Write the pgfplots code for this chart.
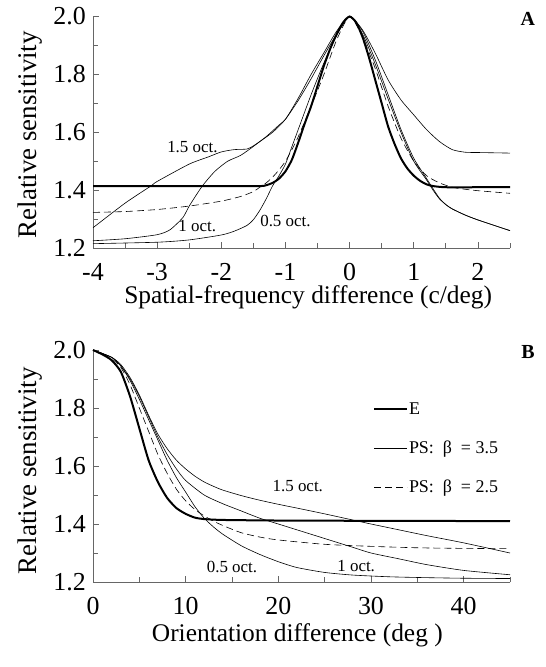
\documentclass[border=0pt]{standalone}
\usepackage{fontspec}
\setmainfont{Liberation Serif}
\usepackage{pgfplots}
\pgfplotsset{compat=1.18}
\begin{document}
\begin{tikzpicture}
\useasboundingbox (0,0) rectangle (546bp,-667bp);
\pgfplotsset{
  myaxis/.style={
    scale only axis,
    width=417bp,
    axis x line*=bottom, axis y line*=left,
    axis line style={gray!80!black, line width=0.8bp},
    tick style={gray!80!black, line width=0.7bp},
    tick align=inside,
    major tick length=6bp, minor tick length=5bp,
    ymin=1.2, ymax=2.0,
    ytick={1.2,1.4,...,2.01},
    minor ytick={1.3,1.5,1.7,1.9},
    /pgf/number format/assume math mode=true,
    tick label style={font=\fontsize{26}{28}\selectfont},
    yticklabel style={anchor=east, inner sep=0pt, xshift=-7bp,
      /pgf/number format/.cd, fixed, fixed zerofill, precision=1},
    xticklabel style={anchor=north, inner sep=0pt, yshift=-15bp},
    xlabel style={font=\fontsize{25.5}{28}\selectfont},
    ylabel style={font=\fontsize{27}{29}\selectfont},
    clip=false,
    thinline/.style={black, line width=0.6bp, smooth, tension=0.4},
    thickline/.style={black, line width=2.0bp, smooth, tension=0.4},
    dashline/.style={black, line width=0.6bp, dash pattern=on 7bp off 4bp, smooth, tension=0.4},
  }
}
% ---------------- Panel A ----------------
\begin{axis}[myaxis,
  at={(93bp,-248bp)}, anchor=south west, height=231.5bp,
  xmin=-4, xmax=2.5,
  xtick={-4,-3,...,2},
  minor xtick={-3.5,-2.5,...,2.5},
  xlabel={Spatial-frequency difference (c/deg)},
  ylabel={Relative sensitivity},
  xlabel style={at={(axis description cs:0.516,-0.215)}, anchor=center},
  ylabel style={at={(axis description cs:-0.151,0.49)}, anchor=center},
]
% E
\addplot[thickline] coordinates {
(-4,1.414) (-2,1.414) (-1.4,1.414) (-1.3,1.417) (-1.2,1.425) (-1.1,1.44) (-1.0,1.465)
(-0.9,1.505) (-0.8,1.565) (-0.7,1.63) (-0.6,1.69) (-0.5,1.76) (-0.4,1.83) (-0.3,1.89)
(-0.2,1.94) (-0.1,1.98) (0,2.0) (0.1,1.98) (0.2,1.93) (0.3,1.86) (0.4,1.78) (0.5,1.70)
(0.6,1.62) (0.7,1.56) (0.8,1.51) (0.9,1.475) (1.0,1.45) (1.1,1.432) (1.2,1.42)
(1.3,1.414) (1.5,1.41) (2.0,1.41) (2.5,1.41)};
% 1.5 oct
\addplot[thinline] coordinates {
(-4,1.27) (-3.5,1.355) (-3.1,1.414) (-3.0,1.43) (-2.5,1.49) (-2.2,1.515) (-2.0,1.532)
(-1.8,1.54) (-1.6,1.542) (-1.5,1.553) (-1.4,1.568) (-1.2,1.60) (-1.0,1.645)
(-0.8,1.718) (-0.6,1.80) (-0.4,1.875) (-0.2,1.95) (0,2.0) (0.2,1.954) (0.4,1.873)
(0.6,1.781) (0.8,1.712) (1.0,1.66) (1.2,1.609) (1.4,1.568) (1.6,1.54) (1.8,1.531)
(2.0,1.53) (2.5,1.528)};
% 1 oct
\addplot[thinline] coordinates {
(-4,1.225) (-3.5,1.232) (-3.0,1.246) (-2.8,1.263) (-2.6,1.305) (-2.5,1.345)
(-2.3,1.413) (-2.1,1.465) (-1.9,1.50) (-1.7,1.52) (-1.5,1.551) (-1.3,1.585)
(-1.1,1.625) (-1.0,1.645) (-0.8,1.71) (-0.6,1.785) (-0.4,1.865) (-0.2,1.94) (0,2.0)
(0.2,1.95) (0.4,1.85) (0.6,1.73) (0.8,1.61) (1.0,1.51) (1.2,1.44) (1.3,1.405)
(1.4,1.372) (1.5,1.35) (1.6,1.335) (1.8,1.314) (2.0,1.297) (2.5,1.26)};
% 0.5 oct
\addplot[thinline] coordinates {
(-4,1.215) (-3.0,1.22) (-2.5,1.228) (-2.0,1.245) (-1.8,1.258) (-1.6,1.278)
(-1.5,1.298) (-1.4,1.33) (-1.3,1.37) (-1.2,1.415) (-1.1,1.45) (-1.0,1.49)
(-0.9,1.55) (-0.8,1.61) (-0.6,1.73) (-0.4,1.84) (-0.2,1.935) (0,2.0)
(0.2,1.94) (0.4,1.835) (0.6,1.715) (0.8,1.60) (1.0,1.50) (1.2,1.435) (1.3,1.40)
(1.4,1.37) (1.5,1.35) (1.6,1.335) (1.8,1.314) (2.0,1.297) (2.5,1.26)};
% dashed
\addplot[dashline] coordinates {
(-4,1.323) (-3.5,1.326) (-3.0,1.333) (-2.5,1.345) (-2.0,1.362) (-1.7,1.378)
(-1.5,1.395) (-1.4,1.41) (-1.3,1.425) (-1.2,1.445) (-1.1,1.47) (-1.0,1.50)
(-0.9,1.54) (-0.8,1.585) (-0.6,1.69) (-0.4,1.80) (-0.2,1.92) (0,2.0)
(0.2,1.93) (0.4,1.82) (0.6,1.69) (0.8,1.58) (1.0,1.50) (1.2,1.45) (1.4,1.425)
(1.6,1.41) (1.8,1.403) (2.0,1.398) (2.5,1.389)};
\node[font=\fontsize{17}{19}\selectfont] at (axis cs:-2.45,1.55) {1.5 oct.};
\node[font=\fontsize{17}{19}\selectfont] at (axis cs:-2.375,1.277) {1 oct.};
\node[font=\fontsize{17}{19}\selectfont] at (axis cs:-1.0,1.294) {0.5 oct.};
\node[font=\bfseries\fontsize{20}{22}\selectfont] at (axis description cs:1.043,0.99) {A};
\end{axis}
% ---------------- Panel B ----------------
\begin{axis}[myaxis,
  at={(93bp,-582bp)}, anchor=south west, height=232bp,
  xmin=0, xmax=45,
  xtick={0,10,...,40},
  minor xtick={5,15,...,45},
  xlabel={Orientation difference (deg )},
  ylabel={Relative sensitivity},
  xlabel style={at={(axis description cs:0.49,-0.228)}, anchor=center},
  ylabel style={at={(axis description cs:-0.151,0.48)}, anchor=center},
  legend style={at={(axis description cs:0.671,0.778)}, anchor=north west,
    draw=none, fill=none, font=\fontsize{18}{20}\selectfont,
    row sep=23bp, inner sep=0pt, nodes={inner sep=1bp}},
  legend cell align=left,
  legend image code/.code={\draw[#1] (0bp,0bp) -- (33bp,0bp);},
]
% E
\addplot[thickline] coordinates {
(0,2.0) (1,1.985) (2,1.965) (3,1.925) (4,1.84) (5,1.73) (6,1.62) (7,1.545)
(8,1.49) (9,1.455) (10,1.435) (11,1.422) (12,1.417) (14,1.414) (20,1.412)
(30,1.411) (45,1.41)};
\addlegendentry{E}
% 1.5 oct
\addplot[thinline] coordinates {
(0,2.0) (2,1.975) (3,1.95) (4,1.905) (5,1.845) (6,1.775) (7,1.71) (8,1.66)
(9,1.62) (10,1.59) (11,1.565) (12,1.545) (13,1.53) (14,1.517) (16,1.498)
(18,1.482) (20,1.468) (22,1.455) (25,1.435) (28,1.414) (30,1.40) (33,1.38)
(36,1.36) (40,1.335) (45,1.30)};
\addlegendentry{PS:\ \ β\ \ = 3.5}
% dashed
\addplot[dashline] coordinates {
(0,2.0) (2,1.97) (3,1.94) (4,1.88) (5,1.80) (6,1.72) (7,1.64) (8,1.575)
(9,1.52) (10,1.48) (11,1.45) (12,1.428) (13,1.41) (14,1.395) (16,1.37)
(18,1.355) (20,1.345) (25,1.33) (30,1.323) (35,1.318) (40,1.316) (45,1.315)};
\addlegendentry{PS:\ \ β\ \ = 2.5}
% 1 oct
\addplot[thinline, forget plot] coordinates {
(0,2.0) (2,1.975) (3,1.945) (4,1.90) (5,1.84) (6,1.77) (7,1.70) (8,1.64)
(9,1.59) (10,1.55) (12,1.50) (14,1.47) (16,1.445) (18,1.42) (20,1.40)
(22,1.38) (25,1.35) (28,1.32) (30,1.30) (33,1.28) (36,1.26) (40,1.24) (45,1.225)};
% 0.5 oct
\addplot[thinline, forget plot] coordinates {
(0,2.0) (2,1.975) (3,1.945) (4,1.895) (5,1.83) (6,1.76) (7,1.69) (8,1.62)
(9,1.56) (10,1.51) (11,1.46) (12,1.42) (13,1.39) (14,1.365) (16,1.325)
(18,1.295) (20,1.27) (22,1.25) (25,1.233) (28,1.224) (32,1.218) (36,1.215)
(40,1.213) (45,1.212)};
\node[font=\fontsize{17}{19}\selectfont] at (axis cs:22.1,1.531) {1.5 oct.};
\node[font=\fontsize{17}{19}\selectfont] at (axis cs:15.0,1.252) {0.5 oct.};
\node[font=\fontsize{17}{19}\selectfont] at (axis cs:28.4,1.255) {1 oct.};
\node[font=\bfseries\fontsize{20}{22}\selectfont] at (axis description cs:1.043,0.99) {B};
\end{axis}
\end{tikzpicture}
\end{document}
